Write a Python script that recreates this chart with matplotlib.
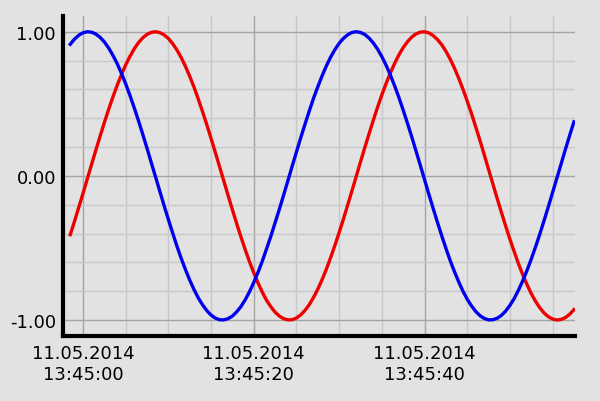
import datetime as dt
import matplotlib
matplotlib.use("Agg")
import matplotlib.pyplot as plt
import matplotlib.dates as mdates
import numpy as np

# seconds after 11.05.2014 13:45:00, one sample every half second
seconds = np.arange(-1.5, 57.6, 0.5)

red = [-0.408, -0.315, -0.218, -0.120, -0.020, 0.080, 0.179, 0.276, 0.371, 0.462,
       0.548, 0.629, 0.703, 0.771, 0.830, 0.882, 0.925, 0.958, 0.982, 0.996,
       1.000, 0.994, 0.978, 0.953, 0.917, 0.873, 0.820, 0.759, 0.690, 0.615,
       0.532, 0.445, 0.354, 0.259, 0.161, 0.062, -0.038, -0.138, -0.236, -0.332,
       -0.424, -0.513, -0.596, -0.673, -0.744, -0.807, -0.864, -0.908, -0.946, -0.973,
       -0.991, -0.999, -0.998, -0.986, -0.964, -0.933, -0.893, -0.843, -0.785, -0.720,
       -0.647, -0.567, -0.482, -0.392, -0.299, -0.202, -0.103, -0.003, 0.097, 0.196,
       0.292, 0.386, 0.477, 0.562, 0.642, 0.715, 0.781, 0.840, 0.890, 0.931,
       0.963, 0.985, 0.997, 1.000, 0.992, 0.974, 0.947, 0.911, 0.865, 0.810,
       0.748, 0.678, 0.601, 0.518, 0.432, 0.339, 0.244, 0.145, 0.045, -0.055,
       -0.155, -0.252, -0.347, -0.440, -0.525, -0.609, -0.685, -0.754, -0.817, -0.870,
       -0.915, -0.951, -0.977, -0.993, -1.000, -0.996, -0.983, -0.960, -0.928]

blue = [0.913, 0.949, 0.976, 0.993, 1.000, 0.997, 0.984, 0.961, 0.929, 0.887,
        0.836, 0.778, 0.711, 0.637, 0.557, 0.471, 0.381, 0.287, 0.190, 0.090,
        -0.009, -0.109, -0.208, -0.304, -0.397, -0.488, -0.573, -0.651, -0.724, -0.789,
        -0.847, -0.895, -0.935, -0.966, -0.987, -0.998, -0.999, -0.990, -0.972, -0.943,
        -0.906, -0.859, -0.803, -0.739, -0.668, -0.591, -0.505, -0.418, -0.324, -0.230,
        -0.132, -0.032, 0.068, 0.167, 0.265, 0.359, 0.451, 0.539, 0.619, 0.694,
        0.763, 0.824, 0.876, 0.920, 0.954, 0.979, 0.995, 1.000, 0.995, 0.981,
        0.956, 0.922, 0.879, 0.827, 0.767, 0.699, 0.624, 0.543, 0.456, 0.365,
        0.271, 0.173, 0.074, -0.026, -0.126, -0.224, -0.320, -0.413, -0.502, -0.587,
        -0.664, -0.735, -0.800, -0.856, -0.902, -0.941, -0.970, -0.989, -0.999, -0.998,
        -0.988, -0.968, -0.938, -0.898, -0.851, -0.793, -0.728, -0.656, -0.577, -0.493,
        -0.404, -0.310, -0.214, -0.115, -0.016, 0.084, 0.184, 0.281, 0.375]

t0 = dt.datetime(2014, 5, 11, 13, 45, 0)
times = [t0 + dt.timedelta(seconds=float(s)) for s in seconds]

bg = "#e2e2e2"
fig = plt.figure(figsize=(6, 4.02), dpi=100, facecolor=bg)
ax = fig.add_axes([0.105, 0.162, 0.853, 0.796])
ax.set_facecolor(bg)

ax.plot(times, red, color="#ee0000", lw=2.4, zorder=3, solid_joinstyle="round")
ax.plot(times, blue, color="#0000ee", lw=2.4, zorder=3, solid_joinstyle="round")

ax.set_xlim(t0 + dt.timedelta(seconds=-2.35), t0 + dt.timedelta(seconds=57.6))
ax.set_ylim(-1.11, 1.11)

ax.xaxis.set_major_locator(mdates.SecondLocator(bysecond=[0, 20, 40]))
ax.xaxis.set_minor_locator(mdates.SecondLocator(bysecond=range(0, 60, 5)))
ax.xaxis.set_major_formatter(mdates.DateFormatter("%d.%m.%Y\n%H:%M:%S"))
ax.set_yticks([-1, 0, 1])
ax.set_yticks(np.arange(-1.0, 1.01, 0.2), minor=True)
ax.set_yticklabels(["-1.00", "0.00", "1.00"])

ax.grid(which="minor", color="#c8c8c8", lw=1.0)
ax.grid(which="major", color="#a4a4a4", lw=1.0)
ax.set_axisbelow(True)

ax.tick_params(which="both", length=0, labelsize=13)
ax.tick_params(axis="y", pad=5)
ax.tick_params(axis="x", pad=6)

for side in ["top", "right"]:
    ax.spines[side].set_visible(False)
for side in ["left", "bottom"]:
    ax.spines[side].set_linewidth(3)
    ax.spines[side].set_color("black")

fig.savefig("out.png", dpi=100, facecolor=bg)
